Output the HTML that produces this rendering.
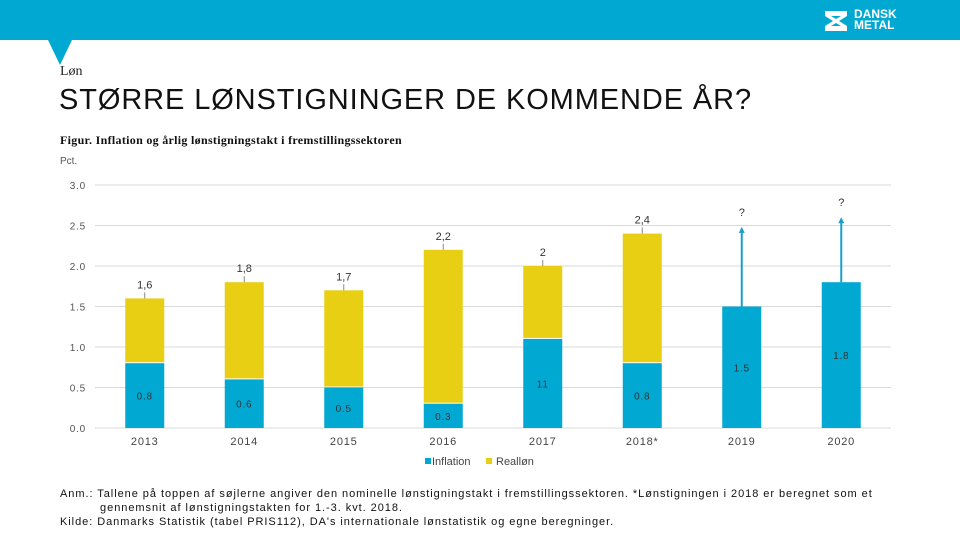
<!DOCTYPE html>
<html><head><meta charset="utf-8"><style>
body{margin:0;width:960px;height:540px;overflow:hidden;background:#fff;font-family:"Liberation Sans","DejaVu Sans",sans-serif;position:relative}
.a{position:absolute;white-space:nowrap}
</style></head><body>
<div class="a" style="left:0;top:0;width:960px;height:40px;background:#00a8d2"></div>
<svg class="a" style="left:48px;top:40px" width="26" height="26"><polygon points="0,0 24,0 12,25" fill="#00a8d2"/></svg>
<div class="a" style="left:824px;top:8px;color:#fff;font-weight:bold;font-size:12px;line-height:11px">
<svg width="24" height="22" style="position:absolute;left:0;top:2px"><path d="M1,1h22v5l-8,5 8,5v5H1v-5l8-5-8-5z" fill="#fff"/><path d="M7,6h10l-5,3z M7,16h10l-5,-3z" fill="#00a8d2"/></svg>
<div style="position:absolute;left:30px;top:1px">DANSK<br>METAL</div></div>
<div class="a" style="left:60px;top:64px;font-size:14px;color:#222;font-family:'Liberation Serif',serif">Løn</div>
<div class="a" style="left:59px;top:84px;font-size:29px;color:#111;font-weight:300;letter-spacing:0.9px">STØRRE LØNSTIGNINGER DE KOMMENDE ÅR?</div>
<div class="a" style="left:60px;top:133px;font-size:12px;font-weight:bold;color:#111;font-family:'Liberation Serif',serif;letter-spacing:0.3px">Figur. Inflation og årlig lønstigningstakt i fremstillingssektoren</div>
<div class="a" style="left:60px;top:156px;font-size:10px;color:#555">Pct.</div>
<svg class="a" id="chart" style="left:0;top:0" width="960" height="480"></svg>
<div class="a" style="left:60px;top:487px;font-size:11px;line-height:14px;color:#111;letter-spacing:0.95px">Anm.: Tallene på toppen af søjlerne angiver den nominelle lønstigningstakt i fremstillingssektoren. *Lønstigningen i 2018 er beregnet som et<br>&nbsp;&nbsp;&nbsp;&nbsp;&nbsp;&nbsp;&nbsp;&nbsp;&nbsp;&nbsp;gennemsnit af lønstigningstakten for 1.-3. kvt. 2018.<br>Kilde: Danmarks Statistik (tabel PRIS112), DA's internationale lønstatistik og egne beregninger.</div>
<script>
const categories=["2013","2014","2015","2016","2017","2018*","2019","2020"];
const inflation=[0.8,0.6,0.5,0.3,1.1,0.8,1.5,1.8];
const inflationLabels=["0.8","0.6","0.5","0.3","11","0.8","1.5","1.8"];
const realWage=[0.8,1.2,1.2,1.9,0.9,1.6,0,0];
const totalLabels=["1,6","1,8","1,7","2,2","2","2,4","?","?"];
const arrowTops=[null,null,null,null,null,null,2.47,2.59];
const yTicks=[0,0.5,1,1.5,2,2.5,3];
const yTickLabels=["0.0","0.5","1.0","1.5","2.0","2.5","3.0"];
const svg=document.getElementById('chart');const NS='http://www.w3.org/2000/svg';
const X0=95,X1=891,Y0=428,PU=81;
const bw=(X1-X0)/categories.length;
const y=v=>Y0-v*PU;const xc=i=>X0+(i+0.5)*bw;
function mk(t,a,p){const e=document.createElementNS(NS,t);for(const k in a)e.setAttribute(k,a[k]);(p||svg).appendChild(e);return e;}
yTicks.forEach((t,i)=>{
const l=mk('line',{x1:X0,x2:X1,y1:y(t),y2:y(t),stroke:'#d9d9d9','stroke-width':1});


const tx=mk('text',{x:86,y:y(t)+4,'text-anchor':'end','font-size':10,fill:'#555','letter-spacing':0.8});tx.textContent=yTickLabels[i];


});
const W=39;
categories.forEach((c,i)=>{
const cx=xc(i);
const b=mk('rect',{x:cx-W/2,y:y(inflation[i]),width:W,height:inflation[i]*PU,fill:'#00a8d2'});


if(realWage[i]>0){
const r=mk('rect',{x:cx-W/2,y:y(inflation[i]+realWage[i]),width:W,height:realWage[i]*PU-1,fill:'#e8cf14'});


}
const il=mk('text',{x:cx,y:y(inflation[i]/2)+4,'text-anchor':'middle','font-size':10,fill:'#333','letter-spacing':0.8});il.textContent=inflationLabels[i];


const tot=inflation[i]+realWage[i];
if(arrowTops[i]==null){
mk('line',{x1:cx,x2:cx,y1:y(tot),y2:y(tot)-6,stroke:'#888','stroke-width':1});
const tl=mk('text',{x:cx,y:y(tot)-10,'text-anchor':'middle','font-size':11,fill:'#333'});tl.textContent=totalLabels[i];


}else{
const a=mk('line',{x1:cx,x2:cx,y1:y(tot),y2:y(arrowTops[i])+4,stroke:'#1aa0c8','stroke-width':2});


mk('polygon',{points:`${cx-3},${y(arrowTops[i])+5} ${cx+3},${y(arrowTops[i])+5} ${cx},${y(arrowTops[i])-1}`,fill:'#1aa0c8'});
const tl=mk('text',{x:cx,y:y(arrowTops[i])-12,'text-anchor':'middle','font-size':11,fill:'#333'});tl.textContent=totalLabels[i];


}
const xl=mk('text',{x:cx,y:445,'text-anchor':'middle','font-size':11,fill:'#444','letter-spacing':0.8});xl.textContent=c;


});
const lg=mk('g',{});


mk('rect',{x:425,y:458,width:6,height:6,fill:'#00a8d2'},lg);
const t1=mk('text',{x:432,y:465,'font-size':11,fill:'#444'},lg);t1.textContent='Inflation';
mk('rect',{x:486,y:458,width:6,height:6,fill:'#e8cf14'},lg);
const t2=mk('text',{x:496,y:465,'font-size':11,fill:'#444'},lg);t2.textContent='Realløn';
</script>
</body></html>
